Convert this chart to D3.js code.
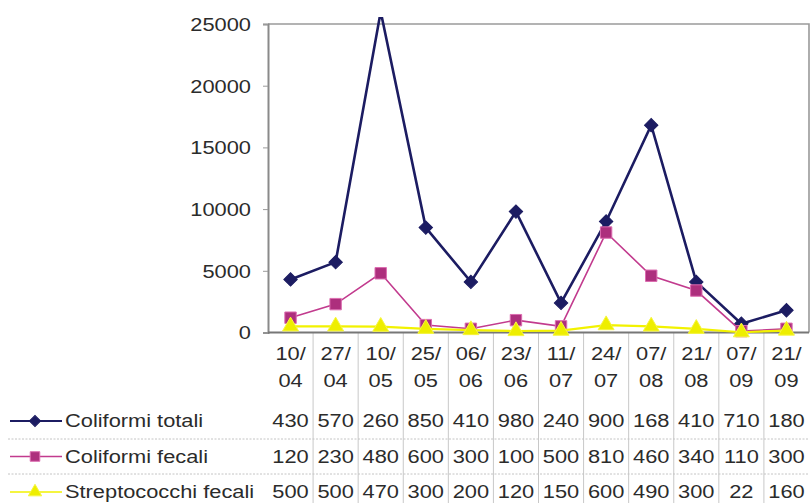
<!DOCTYPE html>
<html>
<head>
<meta charset="utf-8">
<script src="https://cdn.jsdelivr.net/npm/d3@7"></script>
<style>
  body { margin: 0; background: #fff; }
  text { font-family: "Liberation Sans", Arial, sans-serif; fill: #2b2b2b; }
</style>
</head>
<body>
<div id="chart"></div>
<script>
// dates of the samples (day/month)
var dates = ["10/04", "27/04", "10/05", "25/05", "06/06", "23/06", "11/07", "24/07", "07/08", "21/08", "07/09", "21/09"]
var seriesNames = ["Coliformi totali", "Coliformi fecali", "Streptococchi fecali"]
var coliformiTotali = [4300, 5700, 26000, 8500, 4100, 9800, 2400, 9000, 16800, 4100, 710, 1800]
var coliformiFecali = [1200, 2300, 4800, 600, 300, 1000, 500, 8100, 4600, 3400, 110, 300]
var streptococchiFecali = [500, 500, 470, 300, 200, 120, 150, 600, 490, 300, 22, 160]
var yTicks = [0, 5000, 10000, 15000, 20000, 25000]

var width = 811, height = 503
var sx = 1.18   // the source picture is stretched sideways, so is its text

var svg = d3.select("#chart").append("svg")
    .attr("width", width)
    .attr("height", height)

var x = d3.scaleBand().domain(dates).range([268, 809])
var y = d3.scaleLinear().domain([0, 25000]).range([332.5, 24])

var styles = [
  {color: "#1c1c62", fill: "#1c1c62", stroke: "#1c1c62", lw: 2.6, shape: "diamond", size: 90},
  {color: "#c23b8e", fill: "#ad2f7d", stroke: "#dc6cb0", lw: 1.6, shape: "square", size: 130},
  {color: "#f2f200", fill: "#eeee00", stroke: "#f6f640", lw: 2.2, shape: "triangle", size: 110}
]
var data = [coliformiTotali, coliformiFecali, streptococchiFecali]

function marker(shape, size) {
  if (shape == "diamond") return d3.symbol(d3.symbolSquare, size)
  if (shape == "square") return d3.symbol(d3.symbolSquare, size)
  return d3.symbol(d3.symbolTriangle, size)
}

function stretchText(sel, tx, ty) {
  return sel.attr("transform", "translate(" + tx + "," + ty + ") scale(" + sx + ",1)")
}

// plot frame (top and right)
svg.append("path")
  .attr("d", "M" + x.range()[0] + "," + y(25000) + "H" + x.range()[1] + "V" + y(0))
  .attr("fill", "none")
  .attr("stroke", "#9a9a9a")
  .attr("stroke-width", 1.6)

// y axis
var yAxis = svg.append("g")
  .attr("transform", "translate(" + x.range()[0] + ",0)")
  .call(d3.axisLeft(y).tickValues(yTicks).tickSize(5).tickFormat(d3.format("d")))
yAxis.select(".domain").attr("stroke", "#8a8a8a").attr("stroke-width", 2)
yAxis.selectAll(".tick line").attr("stroke", "#9a9a9a")
yAxis.selectAll(".tick text")
  .attr("x", null).attr("dy", null)
  .attr("dominant-baseline", "central")
  .style("font-size", "18.5px")
  .attr("fill", "#2b2b2b")
  .each(function() {
    var t = d3.select(this), g = d3.select(this.parentNode)
    t.attr("transform", "translate(-17,0) scale(" + sx + ",1)")
  })

// table grid: column separators
var bounds = dates.slice(1).map(function(d) { return x(d) })
svg.selectAll(".col-sep").data(bounds).enter().append("line")
  .attr("class", "col-sep")
  .attr("x1", function(d) { return d }).attr("x2", function(d) { return d })
  .attr("y1", y(0)).attr("y2", height)
  .attr("stroke", "#c8c8c8").attr("stroke-width", 1)

// x axis line and small ticks
svg.append("line")
  .attr("x1", x.range()[0]).attr("x2", x.range()[1])
  .attr("y1", y(0)).attr("y2", y(0))
  .attr("stroke", "#777").attr("stroke-width", 1.8)

// row separators
var rowY = [421, 456.5, 492]
var sepY = [439, 474]
svg.selectAll(".row-sep").data(sepY).enter().append("line")
  .attr("x1", 8).attr("x2", x.range()[1])
  .attr("y1", function(d) { return d }).attr("y2", function(d) { return d })
  .attr("stroke", "#c4c4c4").attr("stroke-dasharray", "2,1.5").attr("stroke-width", 1)

// date labels
var dl = svg.selectAll(".date").data(dates).enter().append("g")
dl.append("text")
  .attr("text-anchor", "middle").attr("dominant-baseline", "central")
  .style("font-size", "18.5px")
  .text(function(d) { return d.split("/")[0] + "/" })
  .each(function(d) { stretchText(d3.select(this), x(d) + x.bandwidth() / 2, 353.5) })
dl.append("text")
  .attr("text-anchor", "middle").attr("dominant-baseline", "central")
  .style("font-size", "18.5px")
  .text(function(d) { return d.split("/")[1] })
  .each(function(d) { stretchText(d3.select(this), x(d) + x.bandwidth() / 2, 380.5) })

// lines
var clip = svg.append("clipPath").attr("id", "clip")
  .append("rect").attr("x", x.range()[0]).attr("y", 17)
  .attr("width", x.range()[1] - x.range()[0] + 10).attr("height", y(0) - 17 + 10)

var line = d3.line()
  .x(function(d, i) { return x(dates[i]) + x.bandwidth() / 2 })
  .y(function(d) { return y(d) })

var plot = svg.append("g").attr("clip-path", "url(#clip)")

data.forEach(function(vals, s) {
  var st = styles[s]
  plot.append("path")
    .datum(vals)
    .attr("d", line)
    .attr("fill", "none")
    .attr("stroke", st.color)
    .attr("stroke-width", st.lw)
    .attr("stroke-linejoin", "miter")
  plot.selectAll(".m" + s).data(vals).enter().append("path")
    .attr("d", marker(st.shape, st.size))
    .attr("transform", function(d, i) {
      return "translate(" + (x(dates[i]) + x.bandwidth() / 2) + "," + y(d) + ")" +
        (st.shape == "diamond" ? " rotate(45)" : "")
    })
    .attr("fill", st.fill)
    .attr("stroke", st.stroke)
    .attr("stroke-width", 1)
})

// table rows: legend key + values (cells are too narrow, only 3 chars show)
data.forEach(function(vals, s) {
  var st = styles[s], ry = rowY[s]
  svg.append("line")
    .attr("x1", 10).attr("x2", 62).attr("y1", ry).attr("y2", ry)
    .attr("stroke", st.color).attr("stroke-width", s == 0 ? 2 : 1.6)
  svg.append("path")
    .attr("d", marker(st.shape, st.size * 0.7))
    .attr("transform", "translate(35," + ry + ")" + (st.shape == "diamond" ? " rotate(45)" : ""))
    .attr("fill", st.fill).attr("stroke", st.stroke)
  svg.append("text")
    .attr("dominant-baseline", "central")
    .style("font-size", "18.5px")
    .text(seriesNames[s])
    .call(stretchText, 65, ry)
  svg.selectAll(".v" + s).data(vals).enter().append("text")
    .attr("text-anchor", "middle").attr("dominant-baseline", "central")
    .style("font-size", "18.5px")
    .text(function(d) { return String(d).slice(0, 3) })
    .each(function(d, i) { stretchText(d3.select(this), x(dates[i]) + x.bandwidth() / 2, ry) })
})
</script>
</body>
</html>
